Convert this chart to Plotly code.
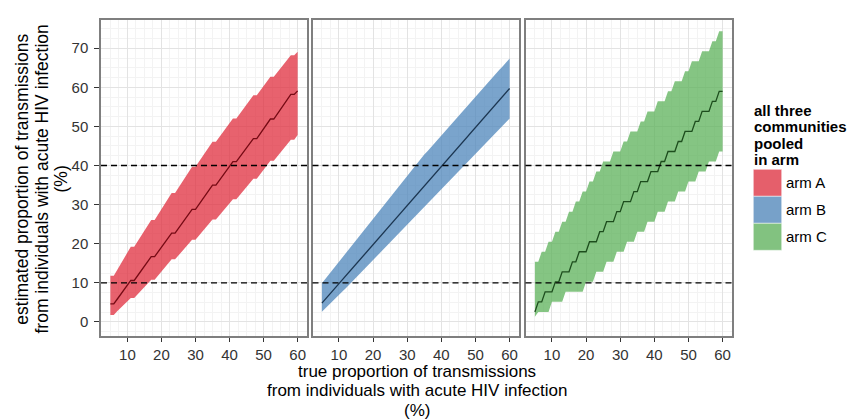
import plotly.graph_objects as go

# ---------------- data ----------------
X_TRUE = [5, 6, 7, 8, 9, 10, 11, 12, 13, 14, 15, 16, 17, 18, 19, 20, 21, 22, 23, 24, 25, 26, 27, 28,
          29, 30, 31, 32, 33, 34, 35, 36, 37, 38, 39, 40, 41, 42, 43, 44, 45, 46, 47, 48, 49, 50, 51, 52,
          53, 54, 55, 56, 57, 58, 59, 60]

ARMS = ["arm A", "arm B", "arm C"]

A_LOW = [1.8, 1.8, 2.7, 3.5, 4.4, 5.2, 6.1, 6.1, 7.0, 8.0, 8.9, 9.9, 10.8, 10.8, 11.8, 12.9, 13.9, 15.0,
         16.0, 16.0, 17.0, 18.0, 19.0, 20.0, 21.0, 21.0, 22.0, 23.1, 24.1, 25.2, 26.2, 26.2, 27.2, 28.3,
         29.3, 30.4, 31.4, 31.4, 32.4, 33.5, 34.5, 35.6, 36.6, 36.6, 37.8, 38.9, 40.1, 41.2, 41.2, 42.3,
         43.4, 44.5, 45.5, 46.6, 46.6, 47.8]
A_MED = [4.6, 4.6, 5.8, 7.0, 8.2, 9.4, 10.6, 10.6, 11.8, 13.0, 14.2, 15.5, 16.7, 16.7, 17.9, 19.1, 20.3,
         21.5, 22.7, 22.7, 23.9, 25.1, 26.3, 27.6, 28.8, 28.8, 30.0, 31.3, 32.5, 33.8, 35.0, 35.0, 36.2,
         37.4, 38.6, 39.8, 41.0, 41.0, 42.2, 43.3, 44.5, 45.7, 46.9, 46.9, 48.2, 49.4, 50.7, 51.9, 51.9,
         53.2, 54.4, 55.7, 56.9, 58.2, 58.2, 59.1]
A_UP = [11.8, 11.8, 13.3, 14.8, 16.2, 17.7, 19.2, 19.2, 20.6, 22.0, 23.3, 24.7, 26.1, 26.1, 27.5, 28.9,
        30.2, 31.6, 33.0, 33.0, 34.3, 35.7, 37.0, 38.4, 39.7, 39.7, 41.0, 42.3, 43.5, 44.8, 46.1, 46.1,
        47.3, 48.5, 49.6, 50.8, 52.0, 52.0, 53.2, 54.4, 55.6, 56.8, 58.0, 58.0, 59.2, 60.3, 61.5, 62.7,
        62.7, 63.8, 64.9, 66.0, 67.1, 68.2, 68.2, 69.1]

B_LOW = [2.6, 3.5, 4.3, 5.2, 6.0, 6.9, 7.8, 8.6, 9.5, 10.4, 11.3, 12.2, 13.1, 14.0, 14.9, 15.8, 16.7,
         17.6, 18.5, 19.4, 20.3, 21.3, 22.2, 23.1, 24.0, 24.9, 25.8, 26.7, 27.6, 28.5, 29.4, 30.3, 31.2,
         32.1, 33.0, 33.9, 34.8, 35.7, 36.7, 37.6, 38.5, 39.4, 40.3, 41.2, 42.1, 43.0, 43.9, 44.8, 45.7,
         46.6, 47.5, 48.4, 49.3, 50.2, 51.1, 52.0]
B_MED = [4.8, 5.8, 6.8, 7.8, 8.8, 9.9, 10.9, 11.9, 12.9, 13.9, 14.9, 15.9, 16.9, 17.9, 18.9, 19.9, 20.9,
         21.9, 22.9, 23.9, 24.9, 25.9, 26.9, 27.9, 28.9, 29.9, 30.9, 31.9, 32.9, 33.9, 34.9, 35.9, 36.9,
         37.9, 38.9, 39.9, 40.9, 41.9, 42.9, 43.9, 44.9, 45.9, 46.8, 47.8, 48.8, 49.8, 50.8, 51.8, 52.8,
         53.8, 54.8, 55.8, 56.8, 57.8, 58.8, 59.7]
B_UP = [9.9, 11.0, 12.1, 13.2, 14.3, 15.4, 16.5, 17.6, 18.8, 19.9, 21.0, 22.1, 23.2, 24.3, 25.4, 26.5,
        27.6, 28.7, 29.8, 30.9, 32.0, 33.1, 34.2, 35.3, 36.5, 37.6, 38.7, 39.8, 40.8, 41.8, 42.8, 43.7,
        44.7, 45.7, 46.7, 47.7, 48.7, 49.7, 50.6, 51.6, 52.6, 53.6, 54.6, 55.6, 56.6, 57.5, 58.5, 59.5,
        60.5, 61.5, 62.5, 63.5, 64.5, 65.4, 66.4, 67.4]

C_LOW = [1.3, 2.56, 2.56, 2.56, 2.56, 5.13, 5.13, 5.13, 5.13, 7.69, 7.69, 7.69, 7.69, 7.69, 7.69, 10.26,
         10.26, 10.26, 12.82, 12.82, 12.82, 15.38, 15.38, 15.38, 17.95, 17.95, 17.95, 20.51, 20.51, 20.51,
         23.08, 23.08, 23.08, 25.64, 25.64, 25.64, 28.21, 28.21, 28.21, 30.77, 30.77, 30.77, 33.33, 33.33,
         33.33, 35.90, 35.90, 35.90, 38.46, 38.46, 38.46, 41.03, 41.03, 41.03, 43.59, 43.59]
C_MED = [2.56, 5.13, 5.13, 7.69, 7.69, 7.69, 10.26, 10.26, 12.82, 12.82, 12.82, 15.38, 15.38, 17.95,
         17.95, 17.95, 20.51, 20.51, 20.51, 23.08, 23.08, 25.64, 25.64, 25.64, 28.21, 28.21, 30.77, 30.77,
         30.77, 33.33, 33.33, 35.90, 35.90, 35.90, 38.46, 38.46, 38.46, 41.03, 41.03, 43.59, 43.59, 43.59,
         46.15, 46.15, 48.72, 48.72, 48.72, 51.28, 51.28, 53.85, 53.85, 53.85, 56.41, 56.41, 58.97, 58.97]
C_UP = [15.38, 15.38, 17.95, 17.95, 20.51, 20.51, 23.08, 23.08, 25.64, 25.64, 28.21, 28.21, 30.77, 30.77,
        33.33, 33.33, 35.90, 35.90, 38.46, 38.46, 41.03, 41.03, 41.03, 43.59, 43.59, 43.59, 46.15, 46.15,
        48.72, 48.72, 48.72, 51.28, 51.28, 53.85, 53.85, 53.85, 56.41, 56.41, 56.41, 58.97, 58.97, 61.54,
        61.54, 61.54, 64.10, 64.10, 66.67, 66.67, 66.67, 69.23, 69.23, 69.23, 71.79, 71.79, 74.36, 74.36]

THRESHOLDS = [10, 40]
X_TICKS = [10, 20, 30, 40, 50, 60]
Y_TICKS = [0, 10, 20, 30, 40, 50, 60, 70]

LEGEND_TITLE = ["all three", "communities", "pooled", "in arm"]
X_TITLE = ["true proportion of transmissions", "from individuals with acute HIV infection", "(%)"]
Y_TITLE = ["estimated proportion of transmissions", "from individuals with acute HIV infection", "(%)"]

# ---------------- styling ----------------
W, H = 851, 419
FONT = "Liberation Sans, Arial, Helvetica, sans-serif"
FILLS = ["rgba(224,46,62,0.75)", "rgba(78,134,187,0.75)", "rgba(92,178,90,0.75)"]
LINES = ["#760a14", "#1b3550", "#1d4d1d"]
PANELS_PX = [(101, 307), (312.5, 519), (525.5, 732)]
Y_TOP_PX, Y_BOT_PX = 19.7, 336

series = {
    "arm A": (A_LOW, A_MED, A_UP),
    "arm B": (B_LOW, B_MED, B_UP),
    "arm C": (C_LOW, C_MED, C_UP),
}

def px_x(p):
    return p / W

def px_y(p):
    return 1 - p / H

fig = go.Figure()

for i, arm in enumerate(ARMS):
    low, med, up = series[arm]
    sfx = "" if i == 0 else str(i + 1)
    xa, ya = "x" + sfx, "y" + sfx
    fig.add_trace(go.Scatter(x=X_TRUE, y=low, mode="lines", line=dict(width=0, color=FILLS[i]),
                             xaxis=xa, yaxis=ya, showlegend=False, hoverinfo="skip"))
    fig.add_trace(go.Scatter(x=X_TRUE, y=up, mode="lines", line=dict(width=0, color=FILLS[i]),
                             fill="tonexty", fillcolor=FILLS[i], xaxis=xa, yaxis=ya,
                             name=arm, showlegend=False, hoverinfo="skip"))
    fig.add_trace(go.Scatter(x=X_TRUE, y=med, mode="lines", line=dict(width=1.3, color=LINES[i]),
                             xaxis=xa, yaxis=ya, showlegend=False, name=arm))

axis_common = dict(
    showline=True, mirror=True, linecolor="#7f7f7f", linewidth=1.5,
    showgrid=True, gridcolor="#e3e3e3", gridwidth=1, zeroline=False,
    ticks="outside", ticklen=4, tickwidth=1, tickcolor="#333333",
    tickfont=dict(family=FONT, size=15, color="#333333"),
)

layout = dict(
    width=W, height=H, margin=dict(l=0, r=0, t=0, b=0),
    paper_bgcolor="white", plot_bgcolor="white", showlegend=False,
    font=dict(family=FONT, color="black"),
)

for i in range(3):
    sfx = "" if i == 0 else str(i + 1)
    x0, x1 = PANELS_PX[i]
    layout["xaxis" + sfx] = dict(
        axis_common, domain=[px_x(x0), px_x(x1)], range=[2.25, 62.75],
        tickmode="array", tickvals=X_TICKS, anchor="y" + sfx,
        minor=dict(tickmode="linear", tick0=0, dtick=2.5, showgrid=True, gridcolor="#f3f3f3", gridwidth=1),
    )
    ycfg = dict(
        axis_common, domain=[px_y(Y_BOT_PX), px_y(Y_TOP_PX)], range=[-3.6, 77.3],
        tickmode="array", tickvals=Y_TICKS, anchor="x" + sfx,
        minor=dict(tickmode="linear", tick0=0, dtick=2.5, showgrid=True, gridcolor="#f3f3f3", gridwidth=1),
    )
    if i > 0:
        ycfg.update(showticklabels=False, ticks="", matches="y")
    else:
        ycfg.update(ticklen=5, ticklabelstandoff=3)
    layout["yaxis" + sfx] = ycfg

fig.update_layout(**layout)

# dashed reference lines
for i in range(3):
    sfx = "" if i == 0 else str(i + 1)
    for t in THRESHOLDS:
        fig.add_shape(type="line", xref=("x" + sfx + " domain"), yref=("y" + sfx),
                      x0=0, x1=1, y0=t, y1=t, line=dict(color="black", width=1.4, dash="6px,4px"),
                      layer="above")

# y title (three lines, rotated)
for xc, line in zip([21.7, 41.5, 60.5], Y_TITLE):
    fig.add_annotation(text=line, xref="paper", yref="paper", x=px_x(xc), y=px_y(179),
                       xanchor="center", yanchor="middle", textangle=-90, showarrow=False,
                       font=dict(family=FONT, size=17.5, color="black"))

# x title (three lines)
for yc, line in zip([371, 390.5, 410], X_TITLE):
    fig.add_annotation(text=line, xref="paper", yref="paper", x=px_x(416.5), y=px_y(yc),
                       xanchor="center", yanchor="middle", showarrow=False,
                       font=dict(family=FONT, size=17, color="black"))

# legend (manual)
for yc, line in zip([110.5, 127, 143.3, 159.5], LEGEND_TITLE):
    fig.add_annotation(text="<b>" + line + "</b>", xref="paper", yref="paper", x=px_x(751.5), y=px_y(yc),
                       xanchor="left", yanchor="middle", showarrow=False,
                       font=dict(family=FONT, size=15, color="black"))

key_tops = [169.3, 196.3, 223.3]
for i, arm in enumerate(ARMS):
    t = key_tops[i]
    fig.add_shape(type="rect", xref="paper", yref="paper", x0=px_x(753.3), x1=px_x(781.7),
                  y0=px_y(t + 27), y1=px_y(t), fillcolor="#f2f2f2", line=dict(width=0), layer="below")
    fig.add_shape(type="rect", xref="paper", yref="paper", x0=px_x(753.3), x1=px_x(781.7),
                  y0=px_y(t + 27), y1=px_y(t), fillcolor=FILLS[i], line=dict(width=1, color="rgba(255,255,255,0.5)"))
    fig.add_annotation(text=arm, xref="paper", yref="paper", x=px_x(784), y=px_y(t + 13.5),
                       xanchor="left", yanchor="middle", showarrow=False,
                       font=dict(family=FONT, size=15, color="black"))

fig.write_html("out.html", config={"displayModeBar": False},
               post_script="document.body.style.margin='0px';document.body.style.overflow='hidden';")
